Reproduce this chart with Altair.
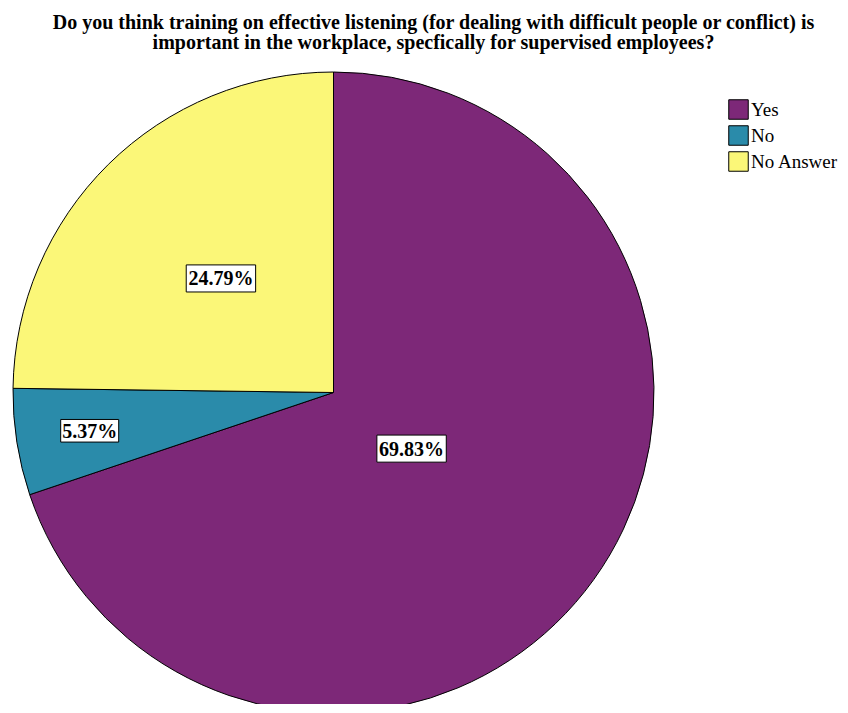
import altair as alt
import pandas as pd

# ---- data ----
categories = ["Yes", "No", "No Answer"]
percentages = [69.83, 5.37, 24.79]
colors = ["#7D2878", "#2A8BAA", "#FBF778"]

title_lines = [
    "Do you think training on effective listening (for dealing with difficult people or conflict) is",
    "important in the workplace, specfically for supervised employees?",
]

# label placement style: fraction of the radius along the slice's mid angle
label_radius = {"Yes": 0.30, "No": 0.77, "No Answer": 0.50}

df = pd.DataFrame({
    "category": categories,
    "value": percentages,
    "order": list(range(len(categories))),
})

D = 641          # pie diameter (px)
R = D / 2
H = 632          # plot-area height (keeps page within the window)
FONT = "Liberation Serif"

color_scale = alt.Scale(domain=categories, range=colors)

pie = alt.Chart(df).mark_arc(stroke="black", strokeWidth=1, outerRadius=R).encode(
    theta=alt.Theta("value:Q", stack=True),
    order=alt.Order("order:Q", sort="ascending"),
    x=alt.value(R),
    y=alt.value(R),
    color=alt.Color(
        "category:N",
        scale=color_scale,
        sort=categories,
        legend=alt.Legend(
            title=None,
            orient="none",
            legendX=715,
            legendY=27,
            symbolType="M-1,-1H1V1H-1Z",
            symbolSize=380,
            symbolStrokeColor="black",
            symbolStrokeWidth=1,
            symbolOpacity=1,
            labelFont=FONT,
            labelFontSize=19,
            labelColor="black",
            labelOffset=2,
            rowPadding=1,
            padding=0,
        ),
    ),
)

rf_expr = " : ".join(
    f"datum.category === '{k}' ? {v}" for k, v in label_radius.items()
) + " : 0.5"

base_lbl = (
    alt.Chart(df)
    .transform_window(cum="sum(value)", sort=[{"field": "order"}], frame=[None, 0])
    .transform_joinaggregate(total="sum(value)")
    .transform_calculate(
        mid="(datum.cum - datum.value / 2) / datum.total * 2 * PI",
        rf=rf_expr,
        label="format(datum.value, '.2f') + '%'",
    )
    .transform_calculate(
        lx="datum.rf * sin(datum.mid)",
        ly="datum.rf * cos(datum.mid)",
        boxsize="pow(length(datum.label) * 11.4 + 1, 2)",
    )
)

xs = alt.Scale(domain=[-1, 1], range=[0, D], nice=False, zero=False)
ys = alt.Scale(domain=[-1, 1], range=[D, 0], nice=False, zero=False)

boxes = base_lbl.mark_point(
    shape="M-1,-0.39H1V0.39H-1Z",
    filled=True,
    fill="white",
    stroke="black",
    strokeWidth=1,
    opacity=1,
).encode(
    x=alt.X("lx:Q", scale=xs, axis=None),
    y=alt.Y("ly:Q", scale=ys, axis=None),
    size=alt.Size("boxsize:Q", scale=None, legend=None),
)

texts = base_lbl.mark_text(
    font=FONT, fontSize=20, fontWeight="bold", color="black", baseline="middle", dy=1
).encode(
    x=alt.X("lx:Q", scale=xs, axis=None),
    y=alt.Y("ly:Q", scale=ys, axis=None),
    text="label:N",
)

chart = (
    alt.layer(pie, boxes, texts)
    .properties(
        width=D,
        height=H,
        title=alt.TitleParams(
            text=title_lines,
            font=FONT,
            fontSize=20,
            fontWeight="bold",
            color="black",
            lineHeight=20,
            anchor="middle",
            dx=100,
            offset=17,
        ),
        autosize=alt.AutoSizeParams(type="none"),
        padding={"left": 5, "top": 64, "right": 186, "bottom": 0},
    )
    .configure_view(stroke=None)
)

chart.save("out.html", embed_options={"renderer": "svg", "actions": False})
